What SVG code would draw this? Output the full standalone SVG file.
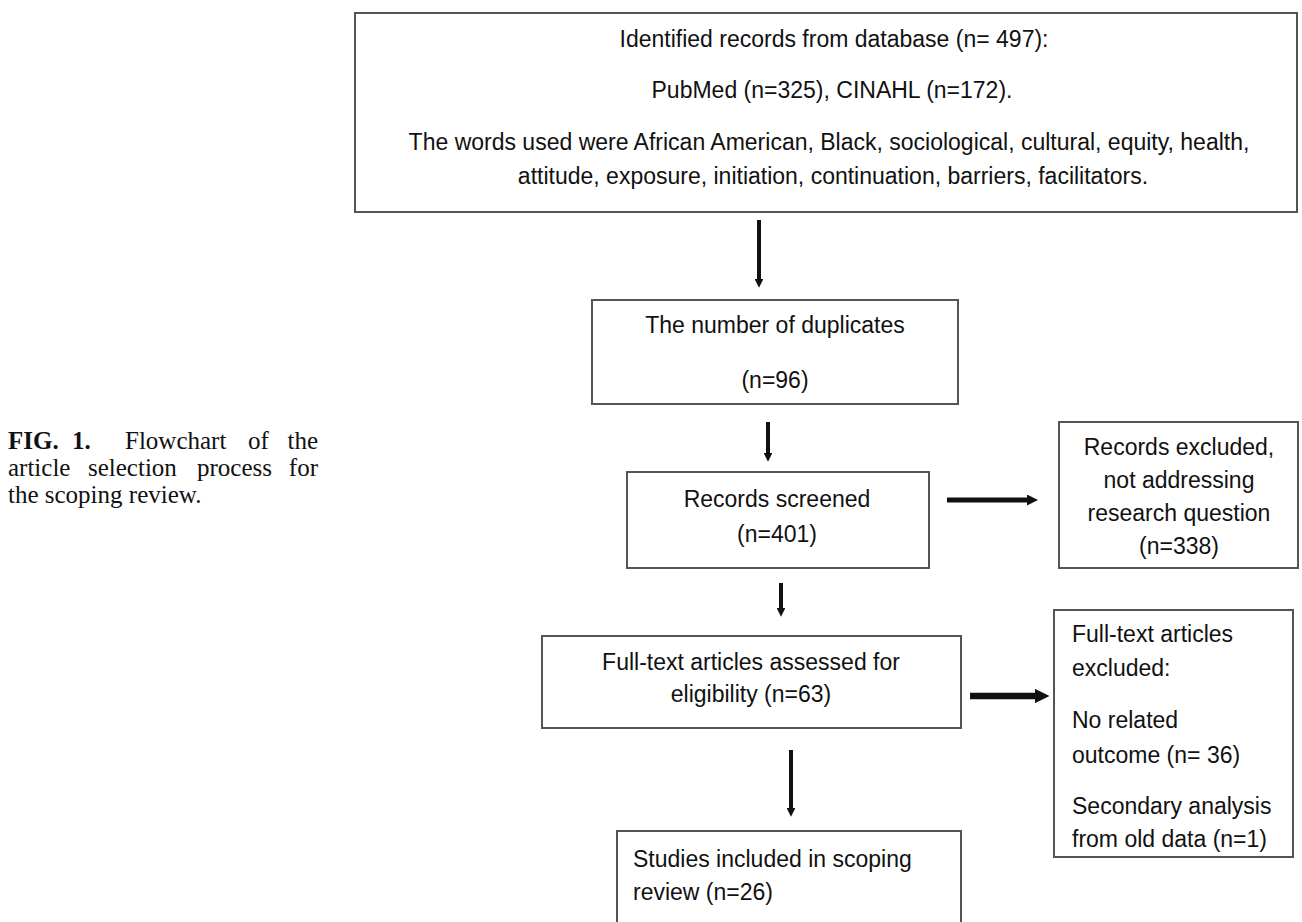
<svg xmlns="http://www.w3.org/2000/svg" width="1302" height="922" viewBox="0 0 1302 922">
  <style>
    .box { fill: #ffffff; stroke: #555555; stroke-width: 2; }
    .t { font-family: "Liberation Sans", Arial, sans-serif; font-size: 23px; fill: #111111; }
    .c { text-anchor: middle; }
    .cap { font-family: "Liberation Serif", "Times New Roman", serif; font-size: 25px; fill: #111111; }
    .b { font-weight: bold; }
    .arr { stroke: #111111; fill: none; marker-end: url(#ah); }
  </style>
  <defs>
    <marker id="ah" viewBox="0 0 10 10" refX="0" refY="5" markerWidth="2.2" markerHeight="2.2" markerUnits="strokeWidth" orient="auto">
      <path d="M0,0 L10,5 L0,10 z" fill="#111111"/>
    </marker>
  </defs>
  <rect width="1302" height="922" fill="#ffffff"/>

  <g id="caption">
    <text class="cap b" x="8" y="449">FIG.</text>
    <text class="cap b" x="72" y="449">1.</text>
    <text class="cap" x="125" y="449">Flowchart</text>
    <text class="cap" x="248" y="449">of</text>
    <text class="cap" x="318" y="449" text-anchor="end">the</text>
    <text class="cap" x="8" y="476">article</text>
    <text class="cap" x="88" y="476">selection</text>
    <text class="cap" x="197" y="476">process</text>
    <text class="cap" x="318" y="476" text-anchor="end">for</text>
    <text class="cap" x="8" y="503">the scoping review.</text>
  </g>

  <g id="identified">
    <rect class="box" x="355" y="13" width="942" height="199"/>
    <text class="t c" x="834" y="47">Identified records from database (n= 497):</text>
    <text class="t c" x="832" y="98">PubMed (n=325), CINAHL (n=172).</text>
    <text class="t c" x="829" y="150">The words used were African American, Black, sociological, cultural, equity, health,</text>
    <text class="t c" x="833" y="184">attitude, exposure, initiation, continuation, barriers, facilitators.</text>
  </g>

  <g id="duplicates">
    <rect class="box" x="592" y="300" width="366" height="104"/>
    <text class="t c" x="775" y="333">The number of duplicates</text>
    <text class="t c" x="775" y="388">(n=96)</text>
  </g>

  <g id="screened">
    <rect class="box" x="627" y="472" width="302" height="96"/>
    <text class="t c" x="777" y="507">Records screened</text>
    <text class="t c" x="777" y="542">(n=401)</text>
  </g>

  <g id="excluded1">
    <rect class="box" x="1059" y="422" width="239" height="146"/>
    <text class="t c" x="1179" y="455">Records excluded,</text>
    <text class="t c" x="1179" y="488">not addressing</text>
    <text class="t c" x="1179" y="521">research question</text>
    <text class="t c" x="1179" y="554">(n=338)</text>
  </g>

  <g id="assessed">
    <rect class="box" x="542" y="636" width="419" height="92"/>
    <text class="t c" x="751" y="670">Full-text articles assessed for</text>
    <text class="t c" x="751" y="702">eligibility (n=63)</text>
  </g>

  <g id="excluded2">
    <rect class="box" x="1054" y="610" width="239" height="247"/>
    <text class="t" x="1072" y="642">Full-text articles</text>
    <text class="t" x="1072" y="676">excluded:</text>
    <text class="t" x="1072" y="728">No related</text>
    <text class="t" x="1072" y="763">outcome (n= 36)</text>
    <text class="t" x="1072" y="814">Secondary analysis</text>
    <text class="t" x="1072" y="847">from old data (n=1)</text>
  </g>

  <g id="included">
    <rect class="box" x="617" y="831" width="344" height="110"/>
    <text class="t" x="633" y="867">Studies included in scoping</text>
    <text class="t" x="633" y="900">review (n=26)</text>
  </g>

  <g id="connectors">
    <line class="arr" x1="759" y1="220" x2="759" y2="279" stroke-width="4"/>
    <line class="arr" x1="768" y1="422" x2="768" y2="453" stroke-width="4"/>
    <line class="arr" x1="781" y1="583" x2="781" y2="608" stroke-width="4"/>
    <line class="arr" x1="791" y1="750" x2="791" y2="808" stroke-width="4"/>
    <line class="arr" x1="947" y1="500" x2="1027" y2="500" stroke-width="5"/>
    <line class="arr" x1="970" y1="696" x2="1035" y2="696" stroke-width="6.5"/>
  </g>
</svg>
